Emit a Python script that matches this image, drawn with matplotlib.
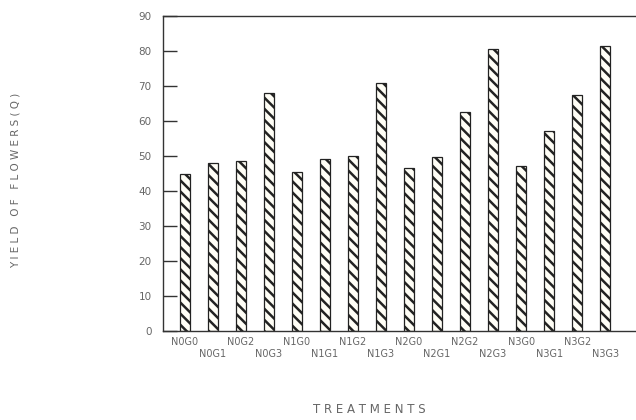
import matplotlib.pyplot as plt
import matplotlib as mpl
import numpy as np

treatments = ['N0G0', 'N0G1', 'N0G2', 'N0G3', 'N1G0', 'N1G1', 'N1G2', 'N1G3',
              'N2G0', 'N2G1', 'N2G2', 'N2G3', 'N3G0', 'N3G1', 'N3G2', 'N3G3']
yield_q = [44.8, 48.0, 48.5, 68.0, 45.3, 49.0, 50.0, 70.8,
           46.5, 49.6, 62.5, 80.5, 47.0, 57.0, 67.5, 81.5]
yticks = [0, 10, 20, 30, 40, 50, 60, 70, 80, 90]

txt = '#666666'
mpl.rcParams['hatch.linewidth'] = 1.8

fig = plt.figure(figsize=(6.36, 4.2), dpi=100)
ax = fig.add_axes([0.256, 0.212, 0.744, 0.750])

x = np.arange(len(treatments))
ax.bar(x, yield_q, width=0.36, color='#fffef6', edgecolor='#222222',
       linewidth=0.9, hatch='\\\\\\')

ax.set_xlim(-0.79, 16.1)
ax.set_ylim(0, 90)
ax.set_yticks(yticks)
ax.set_yticklabels([str(v) for v in yticks], color=txt, fontsize=7.5)
ax.tick_params(axis='y', direction='in', length=10, width=1, pad=8, color='#333333')
ax.set_xticks([])
for s in ['left', 'bottom', 'top']:
    ax.spines[s].set_color('#333333')
    ax.spines[s].set_linewidth(1)
ax.spines['right'].set_visible(False)

# treatment names staggered on two rows
for i, name in enumerate(treatments):
    dy = -0.035 if i % 2 == 0 else -0.072
    ax.text(i, dy, name, transform=ax.get_xaxis_transform(), ha='center',
            va='center', fontsize=7, color=txt)

fig.text(0.58, 0.025, 'T R E A T M E N T S', ha='center', va='center',
         fontsize=8.5, color=txt)
fig.text(0.024, 0.57, 'Y I E L D   O F   F L O W E R S ( Q )', rotation=90,
         ha='center', va='center', fontsize=7.5, color=txt)

fig.savefig('out.png', dpi=100, facecolor='white')
